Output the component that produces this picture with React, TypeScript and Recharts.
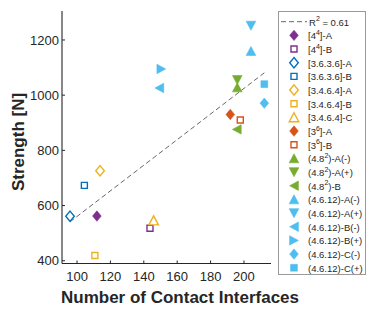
import React from 'react'
import { ScatterChart, Scatter, XAxis, YAxis, ReferenceLine, Label } from 'recharts'

// legend order = series order
const seriesLabels = [
  '[4^4]-A',
  '[4^4]-B',
  '[3.6.3.6]-A',
  '[3.6.3.6]-B',
  '[3.4.6.4]-A',
  '[3.4.6.4]-B',
  '[3.4.6.4]-C',
  '[3^6]-A',
  '[3^6]-B',
  '(4.8^2)-A(-)',
  '(4.8^2)-A(+)',
  '(4.8^2)-B',
  '(4.6.12)-A(-)',
  '(4.6.12)-A(+)',
  '(4.6.12)-B(-)',
  '(4.6.12)-B(+)',
  '(4.6.12)-C(-)',
  '(4.6.12)-C(+)',
]
const contactInterfaces = [
  111.9, 143.7, 95.8, 104.4, 113.8, 110.7, 145.9, 191.8, 197.8, 196, 196, 195.7, 204.2, 204.2, 149.3,
  150.5, 212.2, 212.2,
]
const strengthValues = [
  562, 518, 561, 673, 726, 419, 546, 930, 910, 1028, 1055, 876, 1160, 1252, 1026, 1095, 971, 1040,
]

const fitContacts = [95.8, 212.2]
const fitStrengths = [541, 1081]
const fitLabel = 'R^2 = 0.61'

const xTicks = [100, 120, 140, 160, 180, 200]
const yTicks = [400, 600, 800, 1000, 1200]
const xDomain = [91, 216.2]
const yDomain = [390, 1305]

const PURPLE = '#7E2F8E'
const BLUE = '#0072BD'
const ORANGE = '#EDB120'
const RED = '#D95319'
const GREEN = '#77AC30'
const CYAN = '#4DBEEE'
const INK = '#262626'
const FONT = '"Liberation Sans", Arial, Helvetica, sans-serif'

type Kind = 'diamond' | 'square' | 'up' | 'down' | 'left' | 'right'

const markerStyles: { kind: Kind; color: string; filled: boolean }[] = [
  { kind: 'diamond', color: PURPLE, filled: true },
  { kind: 'square', color: PURPLE, filled: false },
  { kind: 'diamond', color: BLUE, filled: false },
  { kind: 'square', color: BLUE, filled: false },
  { kind: 'diamond', color: ORANGE, filled: false },
  { kind: 'square', color: ORANGE, filled: false },
  { kind: 'up', color: ORANGE, filled: false },
  { kind: 'diamond', color: RED, filled: true },
  { kind: 'square', color: RED, filled: false },
  { kind: 'up', color: GREEN, filled: true },
  { kind: 'down', color: GREEN, filled: true },
  { kind: 'left', color: GREEN, filled: true },
  { kind: 'up', color: CYAN, filled: true },
  { kind: 'down', color: CYAN, filled: true },
  { kind: 'left', color: CYAN, filled: true },
  { kind: 'right', color: CYAN, filled: true },
  { kind: 'diamond', color: CYAN, filled: true },
  { kind: 'square', color: CYAN, filled: true },
]

function markerPath(kind: Kind, cx: number, cy: number, filled: boolean) {
  switch (kind) {
    case 'diamond':
      return `M${cx},${cy - 5.2}L${cx + 4.3},${cy}L${cx},${cy + 5.2}L${cx - 4.3},${cy}Z`
    case 'square': {
      const h = filled ? 3.4 : 3
      return `M${cx - h},${cy - h}H${cx + h}V${cy + h}H${cx - h}Z`
    }
    case 'up':
      return `M${cx},${cy - 4.6}L${cx + 4.8},${cy + 4.4}L${cx - 4.8},${cy + 4.4}Z`
    case 'down':
      return `M${cx},${cy + 4.6}L${cx + 4.8},${cy - 4.4}L${cx - 4.8},${cy - 4.4}Z`
    case 'left':
      return `M${cx - 4.4},${cy}L${cx + 4.4},${cy - 4.7}L${cx + 4.4},${cy + 4.7}Z`
    case 'right':
      return `M${cx + 4.4},${cy}L${cx - 4.4},${cy - 4.7}L${cx - 4.4},${cy + 4.7}Z`
  }
}

function Marker({ cx, cy, idx }: { cx: number; cy: number; idx: number }) {
  const st = markerStyles[idx]
  return (
    <path
      d={markerPath(st.kind, cx, cy, st.filled)}
      fill={st.filled ? st.color : '#fff'}
      stroke={st.color}
      strokeWidth={st.filled ? 0.6 : 1.4}
      strokeLinejoin="miter"
    />
  )
}

// '[4^4]-A' -> text with superscript
function RichLabel({ x, y, text }: { x: number; y: number; text: string }) {
  const parts = text.split(/\^(\d)/)
  return (
    <text x={x} y={y} fontSize={9.5} fill={INK} fontFamily={FONT} dominantBaseline="central">
      {parts.map((p, i) =>
        i % 2 === 1 ? (
          <tspan key={i} fontSize={7} dy={-3.5}>
            {p}
          </tspan>
        ) : (
          <tspan key={i} dy={i > 0 ? 3.5 : 0}>
            {p}
          </tspan>
        ),
      )}
    </text>
  )
}

function LegendBox() {
  const top = 21.7
  const step = 13.67
  return (
    <svg
      width={374}
      height={312}
      style={{ position: 'absolute', left: 0, top: 0, pointerEvents: 'none' }}
    >
      <rect x={278.5} y={11.5} width={87} height={263} fill="#fff" stroke="#9a9a9a" strokeWidth={1} />
      <line x1={281} y1={top} x2={307} y2={top} stroke="#666" strokeWidth={1} strokeDasharray="5 3" />
      <RichLabel x={309} y={top} text={fitLabel} />
      {seriesLabels.map((lab, i) => {
        const y = top + step * (i + 1)
        return (
          <g key={lab}>
            <Marker cx={294} cy={y} idx={i} />
            <RichLabel x={308} y={y} text={lab} />
          </g>
        )
      })}
    </svg>
  )
}

const tickStyle = { fill: INK, fontSize: 13, fontFamily: FONT }

export default function App() {
  return (
    <div style={{ position: 'relative', width: 374, height: 312, background: '#fff' }}>
      <style>{`body{margin:0}`}</style>
      <ScatterChart width={374} height={312} margin={{ top: 11, right: 103, left: 20, bottom: 0 }}>
        <XAxis
          dataKey="x"
          type="number"
          domain={xDomain}
          allowDataOverflow
          ticks={xTicks}
          height={48.5}
          tickSize={-3}
          tickMargin={11.2}
          tick={tickStyle}
          axisLine={{ stroke: INK, strokeWidth: 1.1 }}
          tickLine={{ stroke: INK }}
        >
          <Label
            content={() => (
              <text x={180} y={303} textAnchor="middle" fontSize={17} fontWeight="bold" fill={INK} fontFamily={FONT}>
                Number of Contact Interfaces
              </text>
            )}
          />
        </XAxis>
        <XAxis
          xAxisId="top"
          orientation="top"
          type="number"
          domain={xDomain}
          allowDataOverflow
          ticks={xTicks}
          height={0}
          tickSize={-3}
          tickFormatter={() => ''}
          axisLine={{ stroke: INK, strokeWidth: 1.1 }}
          tickLine={{ stroke: INK }}
        />
        <YAxis
          dataKey="y"
          type="number"
          domain={yDomain}
          allowDataOverflow
          ticks={yTicks}
          width={42}
          tickSize={-3}
          tickMargin={6}
          tick={tickStyle}
          axisLine={{ stroke: INK, strokeWidth: 1.1 }}
          tickLine={{ stroke: INK }}
        >
          <Label
            content={() => (
              <text
                x={0}
                y={0}
                transform="translate(24,142) rotate(-90)"
                textAnchor="middle"
                fontSize={17}
                fontWeight="bold"
                fill={INK}
                fontFamily={FONT}
              >
                Strength [N]
              </text>
            )}
          />
        </YAxis>
        <YAxis
          yAxisId="right"
          orientation="right"
          type="number"
          domain={yDomain}
          allowDataOverflow
          ticks={yTicks}
          width={0}
          tickSize={-3}
          tickFormatter={() => ''}
          axisLine={{ stroke: INK, strokeWidth: 1.1 }}
          tickLine={{ stroke: INK }}
        />

        <ReferenceLine
          segment={[
            { x: fitContacts[0], y: fitStrengths[0] },
            { x: fitContacts[1], y: fitStrengths[1] },
          ]}
          stroke="#666"
          strokeWidth={1}
          strokeDasharray="5 3"
        />

        {seriesLabels.map((lab, i) => (
          <Scatter
            key={lab}
            name={lab}
            data={[{ x: contactInterfaces[i], y: strengthValues[i] }]}
            isAnimationActive={false}
            shape={(p: any) => <Marker cx={p.cx} cy={p.cy} idx={i} />}
          />
        ))}
      </ScatterChart>
      <LegendBox />
    </div>
  )
}
